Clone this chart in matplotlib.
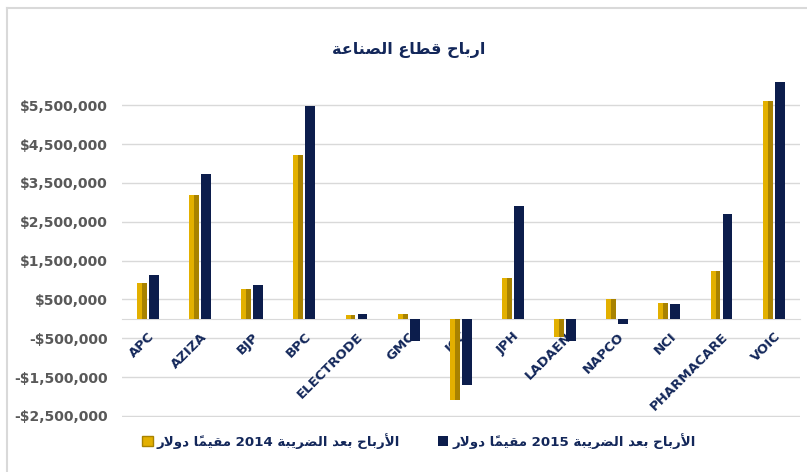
import numpy as np
import matplotlib
matplotlib.use('Agg')
from matplotlib import pyplot as plt
from matplotlib.patches import Patch
from matplotlib.lines import Line2D

plt.rcParams['font.family'] = ['DejaVu Sans']

companies = ['APC', 'AZIZA', 'BJP', 'BPC', 'ELECTRODE', 'GMC', 'JCC', 'JPH',
             'LADAEN', 'NAPCO', 'NCI', 'PHARMACARE', 'VOIC']
profit_2014 = [910000, 3180000, 780000, 4230000, 90000, 120000, -2090000, 1040000,
               -460000, 520000, 400000, 1230000, 5610000]
profit_2015 = [1120000, 3720000, 880000, 5480000, 120000, -580000, -1710000, 2900000,
               -580000, -140000, 370000, 2690000, 6090000]
y_ticks = [-2500000, -1500000, -500000, 500000, 1500000, 2500000, 3500000, 4500000, 5500000]

title = 'ارباح قطاع الصناعة'
label_2014 = 'الأرباح بعد الضريبة 2014 مقيماً دولار'
label_2015 = 'الأرباح بعد الضريبة 2015 مقيماً دولار'

# presentation forms: isolated, final, (initial, medial)
FORMS = {
    'ا': ['\uFE8D', '\uFE8E'],
    'أ': ['\uFE83', '\uFE84'],
    'ب': ['\uFE8F', '\uFE90', '\uFE91', '\uFE92'],
    'ة': ['\uFE93', '\uFE94'],
    'ت': ['\uFE95', '\uFE96', '\uFE97', '\uFE98'],
    'ح': ['\uFEA1', '\uFEA2', '\uFEA3', '\uFEA4'],
    'د': ['\uFEA9', '\uFEAA'],
    'ر': ['\uFEAD', '\uFEAE'],
    'ص': ['\uFEB9', '\uFEBA', '\uFEBB', '\uFEBC'],
    'ض': ['\uFEBD', '\uFEBE', '\uFEBF', '\uFEC0'],
    'ط': ['\uFEC1', '\uFEC2', '\uFEC3', '\uFEC4'],
    'ع': ['\uFEC9', '\uFECA', '\uFECB', '\uFECC'],
    'ق': ['\uFED5', '\uFED6', '\uFED7', '\uFED8'],
    'ل': ['\uFEDD', '\uFEDE', '\uFEDF', '\uFEE0'],
    'م': ['\uFEE1', '\uFEE2', '\uFEE3', '\uFEE4'],
    'ن': ['\uFEE5', '\uFEE6', '\uFEE7', '\uFEE8'],
    'و': ['\uFEED', '\uFEEE'],
    'ي': ['\uFEF1', '\uFEF2', '\uFEF3', '\uFEF4'],
    'لا': ['\uFEFB', '\uFEFC'],
    'لأ': ['\uFEF7', '\uFEF8'],
}


def shape(text):
    units = []
    i = 0
    while i < len(text):
        c = text[i]
        if c == 'ل' and i + 1 < len(text) and text[i + 1] in 'اأ':
            units.append([c + text[i + 1], ''])
            i += 2
            continue
        if '\u064B' <= c <= '\u0652' and units:
            units[-1][1] += c
            i += 1
            continue
        units.append([c, ''])
        i += 1
    glyphs = []
    for k, (u, marks) in enumerate(units):
        f = FORMS.get(u)
        if f is None:
            glyphs.append(u + marks)
            continue
        prev = units[k - 1][0] if k > 0 else None
        nxt = units[k + 1][0] if k + 1 < len(units) else None
        jp = prev in FORMS and len(FORMS[prev]) == 4
        jn = len(f) == 4 and nxt in FORMS
        if jp and jn:
            g = f[3]
        elif jp:
            g = f[1]
        elif jn:
            g = f[2]
        else:
            g = f[0]
        glyphs.append(g + marks)
    # keep digit runs left to right, reverse the rest
    tokens = []
    for g in glyphs:
        if g.isdigit() and tokens and tokens[-1].isdigit():
            tokens[-1] += g
        else:
            tokens.append(g)
    return ''.join(reversed(tokens))


navy = '#13275A'
gold = '#E3B000'
gold_dark = '#A88200'
bar_navy = '#0C1D4C'
grid = '#D9D9D9'

fig = plt.figure(figsize=(8.07, 4.72), dpi=100)
ax = fig.add_axes([0.151, 0.1174, 0.840, 0.7252])

x = np.arange(len(companies))
w = 0.19
off = 0.115
ax.bar(x - off, profit_2014, w, color=gold, zorder=3)
ax.bar(x - off + w / 4, profit_2014, w / 2, color=gold_dark, zorder=3)
ax.bar(x + off, profit_2015, w, color=bar_navy, zorder=3)

ax.set_xlim(-0.5, len(companies) - 0.5)
ax.set_ylim(-2520000, 6300000)
ax.set_yticks(y_ticks)
ax.set_yticklabels([('-$' if v < 0 else '$') + f'{abs(v):,}' for v in y_ticks],
                   fontsize=10, fontweight='bold', color='#595959')
ax.yaxis.grid(True, color=grid, linewidth=1)
ax.tick_params(axis='y', length=0, pad=10)
ax.yaxis.set_zorder(0.5)
ax.xaxis.set_zorder(2.6)

for s in ['top', 'right', 'left']:
    ax.spines[s].set_visible(False)
ax.spines['bottom'].set_position(('data', 0))
ax.spines['bottom'].set_color(grid)
ax.spines['bottom'].set_zorder(2)
ax.set_xticks(x)
ax.set_xticklabels(companies, rotation=45, ha='right', rotation_mode='anchor',
                   fontsize=9.5, fontweight='bold', color=navy)
ax.tick_params(axis='x', length=0, pad=8)

fig.text(409 / 807, 1 - 50 / 472, shape(title), ha='center', va='center',
         fontsize=11.5, fontweight='bold', color=navy)

handles = [Patch(facecolor=gold, edgecolor=gold_dark), Patch(facecolor=bar_navy)]
fig.legend(handles, [shape(label_2014), shape(label_2015)], loc='center',
           bbox_to_anchor=(419 / 807, 1 - 441 / 472), ncol=2, frameon=False,
           prop={'size': 9.6, 'weight': 'bold'}, labelcolor=navy,
           handlelength=0.8, handleheight=0.8, handletextpad=0.3, columnspacing=2.8)

# chart frame
fig.add_artist(Line2D([7 / 807, 1], [1 - 8 / 472, 1 - 8 / 472], color=grid, lw=1.5))
fig.add_artist(Line2D([7 / 807, 7 / 807], [0, 1 - 8 / 472], color=grid, lw=1.5))

fig.savefig('out.png', dpi=100)
